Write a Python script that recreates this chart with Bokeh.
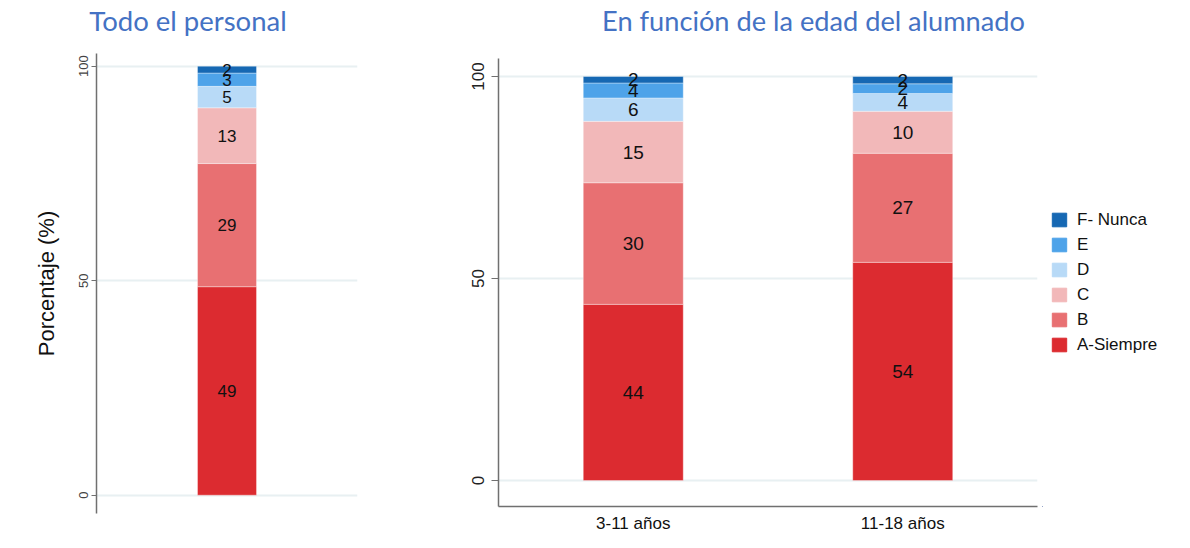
from bokeh.plotting import figure
from bokeh.models import (FactorRange, Range1d, FixedTicker, Legend, LegendItem,
                          ColumnDataSource, Div)
from bokeh.layouts import row, column
from bokeh.embed import file_html
from bokeh.resources import INLINE
from bokeh.core.properties import value

# ---------------- data ----------------
levels = ["A-Siempre", "B", "C", "D", "E", "F- Nunca"]
colors = ["#DC2B30", "#E87072", "#F2B8B9", "#B8DAF7", "#4EA3E9", "#1668B3"]

total_group = ["Todo el personal"]
total_values = [48.6, 28.7, 13.0, 5.0, 3.1, 1.6]   # A..F

age_groups = ["3-11 años", "11-18 años"]
age_A = [43.6, 54.0]
age_B = [30.1, 27.0]
age_C = [15.2, 10.4]
age_D = [5.8, 4.4]
age_E = [3.7, 2.4]
age_F = [1.6, 1.8]

y_ticks = [0, 50, 100]

title_left = "Todo el personal"
title_right = "En función de la edad del alumnado"
y_label = "Porcentaje (%)"

FONT = "Liberation Sans"
TITLE_COLOR = "#4472C4"
AXIS_COLOR = "#707070"
GRID_COLOR = "#E8F0F2"


def label_source(groups, series):
    xs, ys, ts = [], [], []
    for gi, g in enumerate(groups):
        bottom = 0.0
        for s in series:
            v = s[gi]
            xs.append(g)
            ys.append(bottom + v / 2.0)
            ts.append(f"{v:.0f}")
            bottom += v
    return ColumnDataSource(dict(x=xs, y=ys, t=ts))


def title_div(text, width, dx, size):
    style = (f"position:relative; left:{dx}px; width:{width}px; text-align:center; "
             f"font-family:Lato; font-size:{size}px; line-height:32px; "
             f"color:{TITLE_COLOR}; white-space:nowrap")
    return Div(text=f'<div style="{style}">{text}</div>', width=width, height=30)


# ---------------- left panel ----------------
src1 = ColumnDataSource(dict(group=total_group,
                             **{lvl: [v] for lvl, v in zip(levels, total_values)}))
p1 = figure(x_range=FactorRange(factors=total_group), y_range=Range1d(-4.27, 102.96),
            frame_width=261, frame_height=460,
            min_border_left=96, min_border_right=7, min_border_top=13, min_border_bottom=27,
            output_backend="svg", toolbar_location=None,
            styles={"outline": "1px solid #EEF1F3", "outline-offset": "-3px"})
p1.vbar_stack(levels, x="group", width=0.226, color=colors, source=src1,
              line_color="white", line_alpha=0.35, line_width=1)
p1.text(x="x", y="y", text="t", source=label_source(total_group, [[v] for v in total_values]),
        text_align="center", text_baseline="middle", text_font=value(FONT),
        text_font_size="17px", text_color="#111111")

p1.xaxis.visible = False
p1.xgrid.visible = False
p1.ygrid.ticker = FixedTicker(ticks=y_ticks)
p1.ygrid.grid_line_color = GRID_COLOR
p1.ygrid.grid_line_width = 2
p1.outline_line_color = None
ya = p1.yaxis[0]
ya.ticker = FixedTicker(ticks=y_ticks)
ya.major_label_orientation = "vertical"
ya.major_label_text_font = FONT
ya.major_label_text_font_size = "13px"
ya.major_label_text_color = "#444444"
ya.major_label_standoff = 3
ya.major_tick_out = 5
ya.major_tick_in = 0
ya.minor_tick_line_color = None
ya.axis_line_color = AXIS_COLOR
ya.axis_line_width = 1.5
ya.major_tick_line_color = AXIS_COLOR
ya.axis_label = y_label
ya.axis_label_text_font = FONT
ya.axis_label_text_font_size = "22px"
ya.axis_label_text_font_style = "normal"
ya.axis_label_text_color = "#111111"
ya.axis_label_standoff = 18

# ---------------- right panel ----------------
age_series = [age_A, age_B, age_C, age_D, age_E, age_F]
src2 = ColumnDataSource(dict(group=age_groups,
                             **{lvl: s for lvl, s in zip(levels, age_series)}))
p2 = figure(x_range=FactorRange(factors=age_groups), y_range=Range1d(-6.44, 104.46),
            frame_width=539, frame_height=448,
            min_border_left=124, min_border_right=5, min_border_top=18, min_border_bottom=34,
            output_backend="svg", toolbar_location=None)
rs = p2.vbar_stack(levels, x="group", width=0.371, color=colors, source=src2,
                   line_color="white", line_alpha=0.35, line_width=1)
p2.text(x="x", y="y", text="t", source=label_source(age_groups, age_series),
        text_align="center", text_baseline="middle", text_font=value(FONT),
        text_font_size="19px", text_color="#111111")

p2.xgrid.visible = False
p2.ygrid.ticker = FixedTicker(ticks=y_ticks)
p2.ygrid.grid_line_color = GRID_COLOR
p2.ygrid.grid_line_width = 2
p2.outline_line_color = None
ya2 = p2.yaxis[0]
ya2.ticker = FixedTicker(ticks=y_ticks)
ya2.major_label_orientation = "vertical"
ya2.major_label_text_font = FONT
ya2.major_label_text_font_size = "17px"
ya2.major_label_text_color = "#222222"
ya2.major_label_standoff = 7
ya2.major_tick_out = 7
ya2.major_tick_in = 0
ya2.minor_tick_line_color = None
ya2.axis_line_color = AXIS_COLOR
ya2.axis_line_width = 1.5
ya2.major_tick_line_color = AXIS_COLOR
xa2 = p2.xaxis[0]
xa2.major_tick_line_color = None
xa2.major_tick_out = 0
xa2.major_tick_in = 0
xa2.minor_tick_line_color = None
xa2.axis_line_color = AXIS_COLOR
xa2.axis_line_width = 1.5
xa2.major_label_text_font = FONT
xa2.major_label_text_font_size = "17px"
xa2.major_label_text_color = "#111111"
xa2.major_label_standoff = 7

# ---------------- legend (own canvas, right of the panel) ----------------
pleg = figure(x_range=Range1d(0, 1), y_range=Range1d(0, 1),
              frame_width=135, frame_height=448, min_border=0,
              min_border_left=0, min_border_right=0, min_border_top=18, min_border_bottom=34,
              output_backend="svg", toolbar_location=None)
pleg.axis.visible = False
pleg.grid.visible = False
pleg.outline_line_color = None
# legend swatches: zero-height placeholders outside the visible range
leg_renderers = [pleg.vbar(x=[-5], bottom=[0], top=[0], width=0.1, color=c, line_color=c)
                 for c in colors]
legend = Legend(items=[LegendItem(label=lvl, renderers=[r])
                       for lvl, r in reversed(list(zip(levels, leg_renderers)))],
                location="center_left", margin=8, padding=0, spacing=4,
                glyph_width=18, glyph_height=17, label_height=21, label_standoff=9,
                label_text_font=FONT, label_text_font_size="17px",
                label_text_color="#111111",
                border_line_color=None, background_fill_alpha=0)
pleg.add_layout(legend)

left = column(title_div(title_left, 364, 1, 27.5), p1)
right = column(title_div(title_right, 805, 32, 27.2), row(p2, pleg))
layout = row(left, right)
open("out.html", "w").write(file_html(layout, INLINE))
